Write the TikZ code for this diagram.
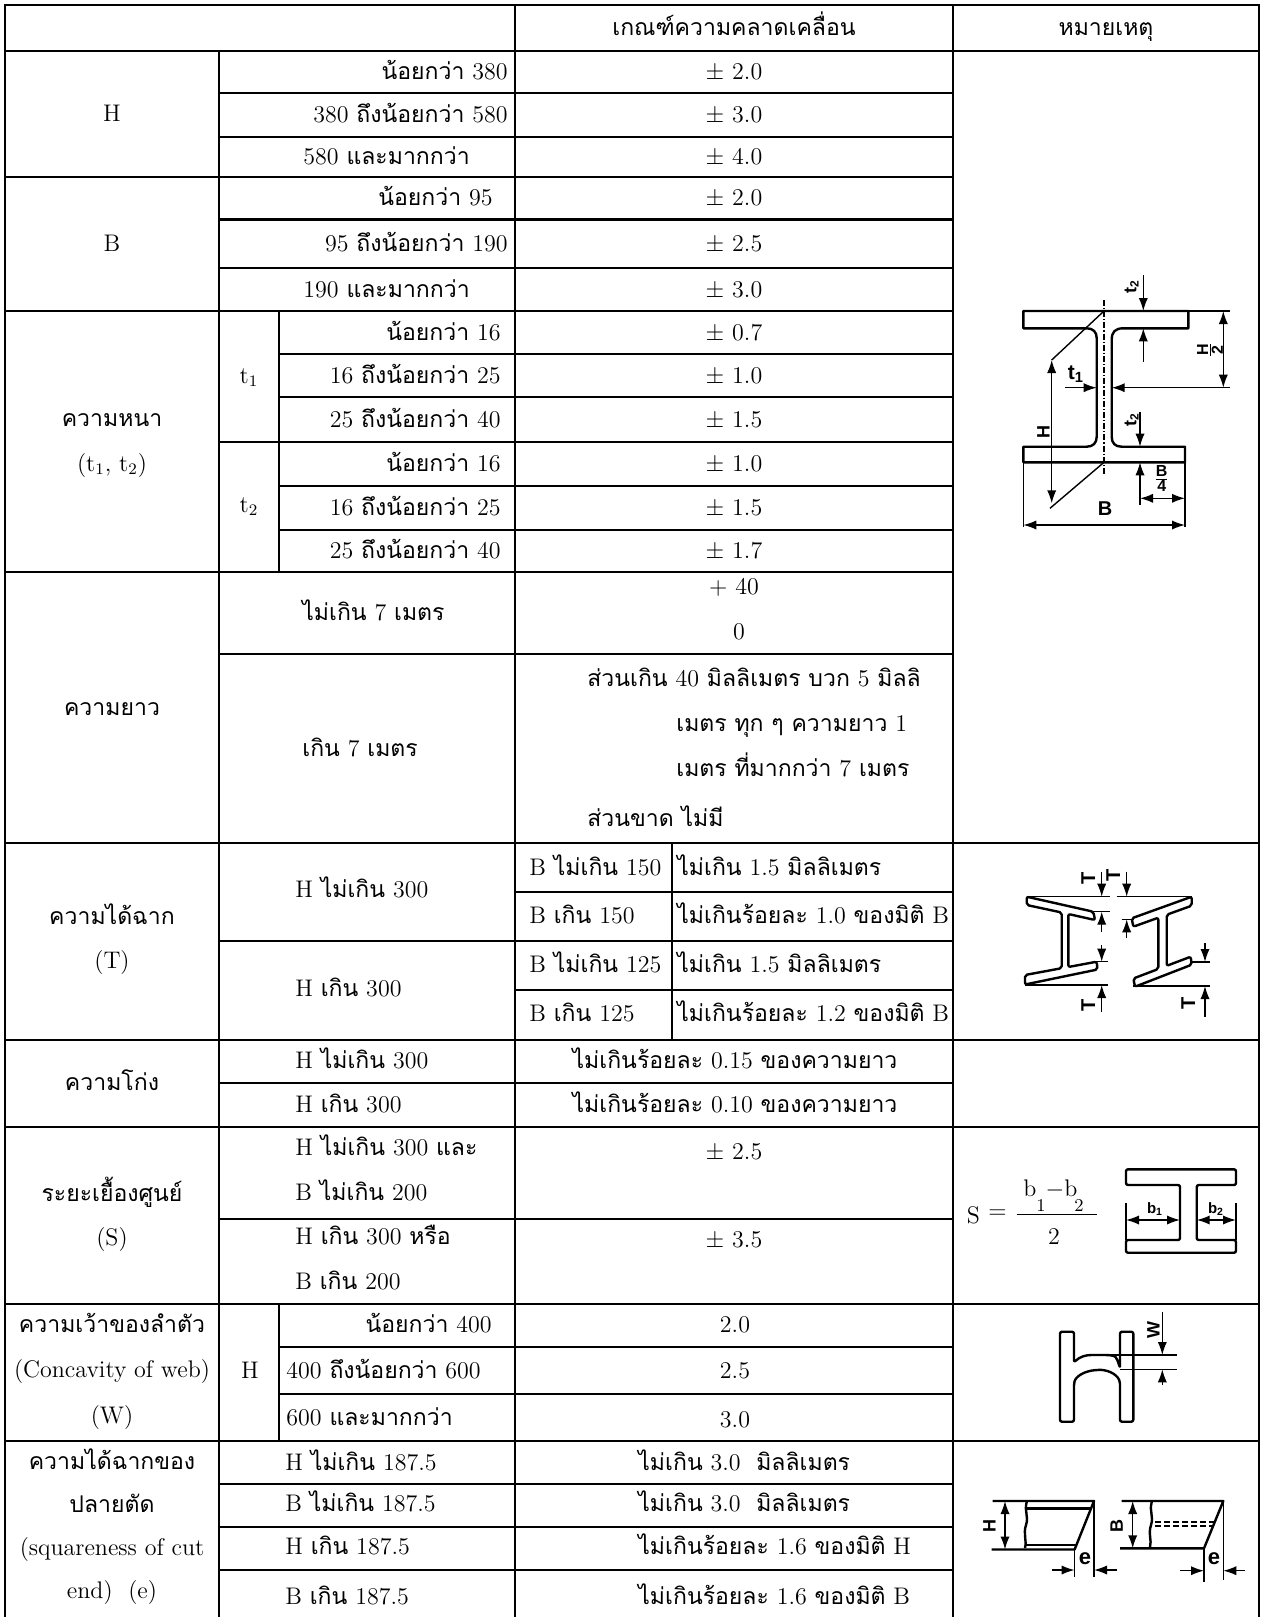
\documentclass[tikz,border=0pt]{standalone}
\usepackage{fontspec}
\setsansfont{Liberation Sans}
\newfontfamily\thaifont[Script=Thai, Scale=0.96]{Loma}
\newcommand{\tha}[1]{{\thaifont #1}}
\usetikzlibrary{arrows.meta}
\begin{document}
\begin{tikzpicture}[x=0.5pt, y=-0.5pt, >={Latex[length=6.5pt,width=4.6pt]},
  every node/.style={inner sep=0pt, font=\fontsize{12}{14}\selectfont},
  grid/.style={line width=1.4pt},
  txt/.style={anchor=base},
  txtl/.style={anchor=base west},
  txtr/.style={anchor=base east},
  part/.style={line width=1.2pt, line join=round},
  dim/.style={line width=0.7pt},
  lbl/.style={font=\sffamily\bfseries\fontsize{9}{11}\selectfont},
  vlbl/.style={lbl, rotate=90}]
  \useasboundingbox (0,0) rectangle (1264,1617);

  \draw[grid] (5,1617) -- (5,5) -- (1259,5) -- (1259,1617);
  \foreach \y in {51,843,1040,1127,1304,1441} \draw[grid] (5,\y) -- (1259,\y);
  \foreach \y in {177,311,572} \draw[grid] (5,\y) -- (953,\y);
  \foreach \y in {93,137,219.5,268,442,654,941,1083,1219,1484,1527,1570} \draw[grid] (219,\y) -- (953,\y);
  \foreach \y in {354,397,486,530,1347,1394} \draw[grid] (279,\y) -- (953,\y);
  \foreach \y in {892,990} \draw[grid] (515,\y) -- (953,\y);
  \draw[grid] (219,51) -- (219,1617) (515,5) -- (515,1617) (953,5) -- (953,1617);
  \draw[grid] (279,311) -- (279,572) (279,1304) -- (279,1441) (672,843) -- (672,1040);

  \node[txt] (htol) at (734,35) {\tha{เกณฑ์ความคลาดเคลื่อน}};
  \node[txt] (hrem) at (1106,35) {\tha{หมายเหตุ}};

  \node[txt] (lH) at (112,121) {H};
  \node[txt] (lB) at (112,251) {B};
  \node[txt] (lthk) at (112,426) {\tha{ความหนา}};
  \node[txt] (lthks) at (112,471) {(t\textsubscript{1}, t\textsubscript{2})};
  \node[txt] (llen) at (112,715) {\tha{ความยาว}};
  \node[txt] (lsq) at (112,924) {\tha{ความได้ฉาก}};
  \node[txt] (lsqs) at (112,968) {(T)};
  \node[txt] (lbow) at (112,1090) {\tha{ความโก่ง}};
  \node[txt] (loff) at (112,1201) {\tha{ระยะเยื้องศูนย์}};
  \node[txt] (loffs) at (112,1245) {(S)};
  \node[txt] (lweb) at (112,1332) {\tha{ความเว้าของลำตัว}};
  \node[txt] (lwebe) at (112,1377) {(Concavity of web)};
  \node[txt] (lwebs) at (112,1423) {(W)};
  \node[txt] (lend) at (112,1469) {\tha{ความได้ฉากของ}};
  \node[txt] (lend2) at (112,1512) {\tha{ปลายตัด}};
  \node[txt] (lende) at (112,1555) {(squareness of cut};
  \node[txt] (lende2) at (112,1598) {end)\ \ (e)};

  \node[txtr] (h1) at (508,79) {\tha{น้อยกว่า} 380};
  \node[txtr] (h2) at (508,122) {380 \tha{ถึงน้อยกว่า} 580};
  \node[txtl] (h3) at (303,164) {580 \tha{และมากกว่า}};
  \node[txtr] (b1) at (493,205) {\tha{น้อยกว่า} 95};
  \node[txtr] (b2) at (508,251) {95 \tha{ถึงน้อยกว่า} 190};
  \node[txtl] (b3) at (303,297) {190 \tha{และมากกว่า}};
  \node[txt] (t1) at (249,383) {t\textsubscript{1}};
  \node[txt] (t2) at (249,512) {t\textsubscript{2}};
  \node[txtr] (ta1) at (501,340) {\tha{น้อยกว่า} 16};
  \node[txtr] (ta2) at (501,383) {16 \tha{ถึงน้อยกว่า} 25};
  \node[txtr] (ta3) at (501,427) {25 \tha{ถึงน้อยกว่า} 40};
  \node[txtr] (tb1) at (501,471) {\tha{น้อยกว่า} 16};
  \node[txtr] (tb2) at (501,515) {16 \tha{ถึงน้อยกว่า} 25};
  \node[txtr] (tb3) at (501,558) {25 \tha{ถึงน้อยกว่า} 40};
  \node[txtl] (len1) at (302,620) {\tha{ไม่เกิน} 7 \tha{เมตร}};
  \node[txtl] (len2) at (302,756) {\tha{เกิน} 7 \tha{เมตร}};
  \node[txtl] (sq1) at (295,897) {H \tha{ไม่เกิน} 300};
  \node[txtl] (sq2) at (295,996) {H \tha{เกิน} 300};
  \node[txtl] (bow1) at (295,1068) {H \tha{ไม่เกิน} 300};
  \node[txtl] (bow2) at (295,1112) {H \tha{เกิน} 300};
  \node[txtl] (off1) at (295,1155) {H \tha{ไม่เกิน} 300 \tha{และ}};
  \node[txtl] (off2) at (295,1200) {B \tha{ไม่เกิน} 200};
  \node[txtl] (off3) at (295,1244) {H \tha{เกิน} 300 \tha{หรือ}};
  \node[txtl] (off4) at (295,1289) {B \tha{เกิน} 200};
  \node[txt] (wh) at (250,1378) {H};
  \node[txtr] (w1) at (492,1332) {\tha{น้อยกว่า} 400};
  \node[txtl] (w2) at (286,1378) {400 \tha{ถึงน้อยกว่า} 600};
  \node[txtl] (w3) at (286,1425) {600 \tha{และมากกว่า}};
  \node[txtl] (e1) at (285,1470) {H \tha{ไม่เกิน} 187.5};
  \node[txtl] (e2) at (285,1511) {B \tha{ไม่เกิน} 187.5};
  \node[txtl] (e3) at (285,1554) {H \tha{เกิน} 187.5};
  \node[txtl] (e4) at (285,1604) {B \tha{เกิน} 187.5};

  \foreach \y/\v [count=\i] in {79.5/2.0, 122.5/3.0, 164.5/4.0, 205.5/2.0, 251.5/2.5, 297/3.0,
      340/0.7, 383/1.0, 427/1.5, 471.5/1.0, 515.5/1.5, 558.5/1.7, 1159/2.5, 1247/3.5}
    \node[txt] (tol\i) at (734,\y) {$\pm$ \v};
  \node[txt] (lenp) at (734,594) {$+$ 40};
  \node[txt] (lenz) at (739,639) {0};
  \node[txtl] (lenx1) at (587,686) {\tha{ส่วนเกิน} 40 \tha{มิลลิเมตร บวก} 5 \tha{มิลลิ}};
  \node[txtl] (lenx2) at (676,731) {\tha{เมตร ทุก ๆ ความยาว} 1};
  \node[txtl] (lenx3) at (676,776) {\tha{เมตร ที่มากกว่า} 7 \tha{เมตร}};
  \node[txtl] (lenx4) at (587,826) {\tha{ส่วนขาด ไม่มี}};
  \node[txtl] (sqb1) at (529,875) {B \tha{ไม่เกิน} 150};
  \node[txtl] (sqv1) at (677,875) {\tha{ไม่เกิน} 1.5 \tha{มิลลิเมตร}};
  \node[txtl] (sqb2) at (529,923) {B \tha{เกิน} 150};
  \node[txtl] (sqv2) at (677,923) {\tha{ไม่เกินร้อยละ} 1.0 \tha{ของมิติ} B};
  \node[txtl] (sqb3) at (529,972) {B \tha{ไม่เกิน} 125};
  \node[txtl] (sqv3) at (677,972) {\tha{ไม่เกิน} 1.5 \tha{มิลลิเมตร}};
  \node[txtl] (sqb4) at (529,1021.5) {B \tha{เกิน} 125};
  \node[txtl] (sqv4) at (677,1021.5) {\tha{ไม่เกินร้อยละ} 1.2 \tha{ของมิติ} B};
  \node[txt] (bowv1) at (735,1068) {\tha{ไม่เกินร้อยละ} 0.15 \tha{ของความยาว}};
  \node[txt] (bowv2) at (735,1112) {\tha{ไม่เกินร้อยละ} 0.10 \tha{ของความยาว}};
  \node[txt] (wv1) at (735,1332) {2.0};
  \node[txt] (wv2) at (735,1378) {2.5};
  \node[txt] (wv3) at (735,1427) {3.0};
  \node[txtl] (ev1) at (638,1470) {\tha{ไม่เกิน} 3.0\ \ \tha{มิลลิเมตร}};
  \node[txtl] (ev2) at (638,1511) {\tha{ไม่เกิน} 3.0\ \ \tha{มิลลิเมตร}};
  \node[txtl] (ev3) at (638,1554) {\tha{ไม่เกินร้อยละ} 1.6 \tha{ของมิติ} H};
  \node[txtl] (ev4) at (638,1604) {\tha{ไม่เกินร้อยละ} 1.6 \tha{ของมิติ} B};

  \draw[part] (1023.3,311) -- (1188.3,311) -- (1188.3,328.3) -- (1123.3,328.3)
    .. controls (1115,328.3) and (1111.7,332) .. (1111.7,340) -- (1111.7,436.7)
    .. controls (1111.7,443) and (1115,446.7) .. (1121.7,446.7) -- (1185,446.7) -- (1185,462.3)
    -- (1023.3,462.3) -- (1023.3,446.7) -- (1086.7,446.7)
    .. controls (1093,446.7) and (1096.7,443) .. (1096.7,436.7) -- (1096.7,338)
    .. controls (1096.7,332) and (1093,328.3) .. (1086.7,328.3) -- (1023.3,328.3) -- cycle;
  \draw[dim, dash pattern=on 3pt off 1pt on 0.6pt off 1pt] (1104,300) -- (1104,475);
  \draw[dim] (1104,311) -- (1051.7,360) (1104,462.3) -- (1050,508.3);
  \draw[dim] (1188.3,311) -- (1230,311) (1023.3,462.3) -- (1023.3,526.7) (1185,462.3) -- (1185,526.7);
  \draw[dim,<->] (1051.7,360) -- (1051.7,503.3);
  \draw[dim,<->] (1223.3,311) -- (1223.3,387.7);
  \draw[dim,->] (1065,387.7) -- (1096.7,387.7);
  \draw[dim,->] (1230,387.7) -- (1111.7,387.7);
  \draw[dim,->] (1143.3,275) -- (1143.3,311);
  \draw[dim,->] (1143.3,361.7) -- (1143.3,328.3);
  \draw[dim,->] (1140,411.7) -- (1140,446.7);
  \draw[dim,->] (1140,505) -- (1140,462.3);
  \draw[dim,<->] (1140,498.3) -- (1185,498.3);
  \draw[dim,<->] (1023.3,525) -- (1185,525);
  \node[lbl, font=\sffamily\bfseries\fontsize{10.5}{12}\selectfont] (dt1) at (1076,374) {t\textsubscript{1}};
  \node[vlbl] (dH) at (1043.3,431.7) {H};
  \node[vlbl, font=\sffamily\bfseries\fontsize{8}{9}\selectfont] (dH2) at (1210,350) {$\frac{\textsf{\textbf{H}}}{\textsf{\textbf{2}}}$};
  \node[vlbl] (dt2a) at (1131.7,286.7) {t\textsubscript{2}};
  \node[vlbl] (dt2b) at (1131.7,420) {t\textsubscript{2}};
  \node[lbl, font=\sffamily\bfseries\fontsize{8}{9}\selectfont] (dB4) at (1161.7,478.3) {$\frac{\textsf{\textbf{B}}}{\textsf{\textbf{4}}}$};
  \node[lbl, font=\sffamily\bfseries\fontsize{10}{12}\selectfont] (dB) at (1105,508.3) {B};

  \draw[part, rounded corners=1pt] (1026.7,896.7) -- (1093.3,911.7) -- (1095,920) -- (1068.3,914)
    -- (1068.3,967) -- (1096.7,961.7) -- (1097.5,969.5) -- (1025,984.5) -- (1025,975)
    -- (1061.7,968.2) -- (1061.7,912.5) -- (1026.7,905) -- cycle;
  \draw[dim] (1026.7,896.7) -- (1110,896.7) (1093.3,911.7) -- (1110,911.7);
  \draw[dim,->] (1101.7,871.7) -- (1101.7,896.7);
  \draw[dim,->] (1101.7,931.7) -- (1101.7,911.7);
  \node[vlbl, font=\sffamily\bfseries\fontsize{10}{12}\selectfont] (tT1) at (1088.3,878.3) {T};
  \draw[dim] (1093.3,961.7) -- (1108.3,961.7) (1025,985) -- (1108.3,985);
  \draw[dim,->] (1101.7,945) -- (1101.7,961.7);
  \draw[dim,->] (1101.7,1011.7) -- (1101.7,985);
  \node[vlbl, font=\sffamily\bfseries\fontsize{10}{12}\selectfont] (tT2) at (1088.3,1005) {T};
  \draw[part, rounded corners=1pt] (1191.7,896.7) -- (1131.7,918.3) -- (1133.3,926.7) -- (1158.3,917.7)
    -- (1158.3,969) -- (1133.3,978.5) -- (1135,986.7) -- (1191.7,964.7) -- (1190.7,956.7)
    -- (1166.7,965.8) -- (1166.7,914.7) -- (1191.7,905.7) -- cycle;
  \draw[dim] (1116.7,896.7) -- (1191.7,896.7) (1121.7,919.3) -- (1133.3,919.3);
  \draw[dim,->] (1126.7,871.7) -- (1126.7,896.7);
  \draw[dim,->] (1126.7,938.3) -- (1126.7,919.3);
  \node[vlbl, font=\sffamily\bfseries\fontsize{10}{12}\selectfont] (tT3) at (1113.3,875) {T};
  \draw[dim] (1191,962) -- (1210,962) (1133.3,986) -- (1210,986);
  \draw[dim,->] (1205,943) -- (1205,962);
  \draw[dim,->] (1205,1016.7) -- (1205,986);
  \node[vlbl, font=\sffamily\bfseries\fontsize{10}{12}\selectfont] (tT4) at (1188.3,1003.3) {T};

  \node[anchor=base] (sS) at (973.3,1223.3) {S};
  \node (sEq) at (997.5,1214) {$=$};
  \draw[dim] (1016.7,1214.3) -- (1096.7,1214.3);
  \node[anchor=base] (sb1) at (1030,1196.7) {b};
  \node[anchor=base] (sb2) at (1061.5,1196.7) {$-$b};
  \node[anchor=base, font=\fontsize{9}{10}\selectfont] (si1) at (1041,1211) {1};
  \node[anchor=base, font=\fontsize{9}{10}\selectfont] (si2) at (1079,1211) {2};
  \node[anchor=base] (sden) at (1054,1244.3) {2};
  \draw[part, rounded corners=1pt] (1126,1169.3) -- (1236,1169.3) -- (1236,1185) -- (1196.7,1185)
    -- (1196.7,1240) -- (1236,1240) -- (1236,1252.7) -- (1126,1252.7) -- (1126,1240)
    -- (1180,1240) -- (1180,1185) -- (1126,1185) -- cycle;
  \draw[dim] (1126,1203) -- (1126,1240) (1236,1203) -- (1236,1240);
  \draw[dim,<->] (1126,1220) -- (1180,1220);
  \draw[dim,<->] (1196.7,1220) -- (1236,1220);
  \node[lbl, font=\sffamily\bfseries\fontsize{7.5}{9}\selectfont] (sl1) at (1155,1209) {b\textsubscript{1}};
  \node[lbl, font=\sffamily\bfseries\fontsize{7.5}{9}\selectfont] (sl2) at (1216,1209) {b\textsubscript{2}};

  \draw[part, rounded corners=1pt] (1060,1331.7) -- (1074,1331.7) -- (1074,1362.3)
    .. controls (1080,1356.5) and (1086,1355) .. (1093.3,1355) -- (1108,1355)
    .. controls (1116,1356) .. (1120,1367.7) -- (1120,1331.7) -- (1133.3,1331.7)
    -- (1133.3,1421.7) -- (1120,1421.7) -- (1120,1381.7)
    .. controls (1116,1373) and (1106,1369.5) .. (1096.7,1370)
    .. controls (1085,1371) and (1076,1376) .. (1074,1383.3) -- (1074,1421.7) -- (1060,1421.7) -- cycle;
  \draw[dim] (1093.3,1355) -- (1176.7,1355) (1120,1369.3) -- (1177,1369.3);
  \draw[dim,->] (1162.3,1311.7) -- (1162.3,1355);
  \draw[dim,->] (1162.3,1385) -- (1162.3,1369.3);
  \node[vlbl] (wW) at (1153.3,1330) {W};

  \draw[part] (992.7,1501) -- (1094,1501) -- (1074.6,1549.5) -- (991.7,1549.5);
  \draw[part] (1026.7,1508.3) -- (1091.1,1508.3) (1024.5,1545) -- (1076.2,1545);
  \draw[part] (1026.7,1502) .. controls (1024,1512) and (1029,1516) .. (1026,1525)
    .. controls (1023,1534) and (1027,1540) .. (1025,1548);
  \draw[dim] (1094,1501) -- (1094,1576.7) (1074.6,1549.5) -- (1074.6,1576.7);
  \draw[dim,->] (1051.7,1570) -- (1074.6,1570);
  \draw[dim,->] (1116.7,1570) -- (1094,1570);
  \node[lbl, font=\sffamily\bfseries\fontsize{11}{13}\selectfont] (eE1) at (1085,1559) {e};
  \draw[dim,<->] (1005,1501) -- (1005,1549.5);
  \node[vlbl] (eH) at (989.3,1526) {H};
  \draw[part] (1121.7,1501) -- (1223.3,1501) -- (1204,1548.3) -- (1120,1548.3);
  \draw[part] (1151.7,1502) .. controls (1149,1512) and (1154,1516) .. (1151,1525)
    .. controls (1148,1534) and (1152,1540) .. (1150,1547);
  \draw[line width=0.8pt, dash pattern=on 3pt off 1.5pt] (1155,1521.7) -- (1214.9,1521.7) (1155,1526) -- (1213.1,1526);
  \draw[dim] (1223.3,1501) -- (1223.3,1580) (1204,1548.3) -- (1204,1581.7);
  \draw[dim,->] (1180,1570.7) -- (1204,1570.7);
  \draw[dim,->] (1245,1570.7) -- (1223.3,1570.7);
  \node[lbl, font=\sffamily\bfseries\fontsize{11}{13}\selectfont] (eE2) at (1214,1559) {e};
  \draw[dim,<->] (1132.7,1501) -- (1132.7,1548.3);
  \node[vlbl] (eB) at (1116.7,1526) {B};
\end{tikzpicture}
\end{document}
